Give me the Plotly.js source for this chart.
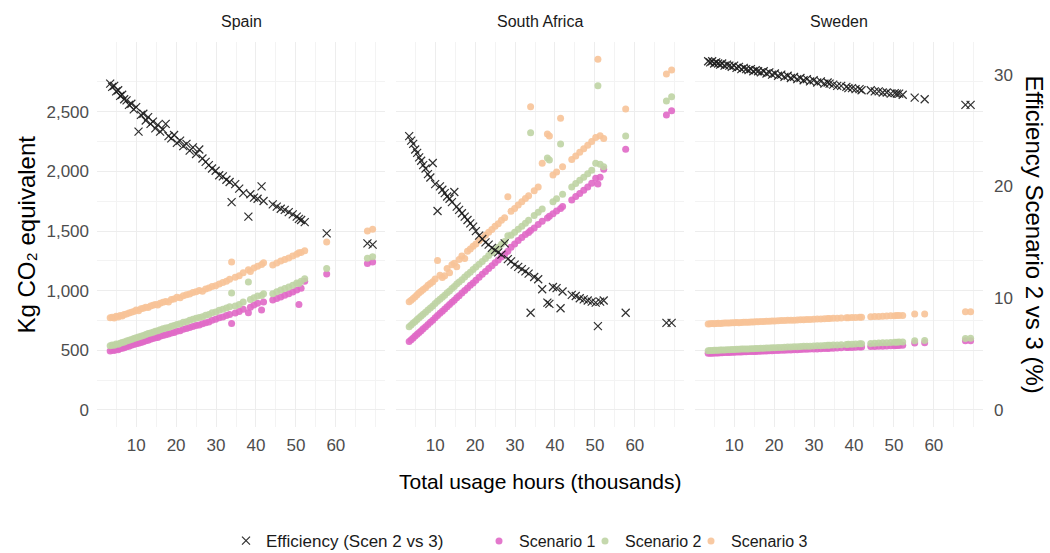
<!DOCTYPE html>
<html>
<head>
<meta charset="utf-8">
<script src="https://cdn.plot.ly/plotly-3.0.1.min.js"></script>
<style>html,body{margin:0;padding:0;background:#fff;}#chart{width:1050px;height:553px;}</style>
</head>
<body>
<div id="chart"></div>
<script>
// ---- Data ----
const countryNames = ["Spain", "South Africa", "Sweden"];
const seriesNames = ["Efficiency (Scen 2 vs 3)", "Scenario 1", "Scenario 2", "Scenario 3"];
const xTickVals = [10, 20, 30, 40, 50, 60];
const yTickVals = [0, 500, 1000, 1500, 2000, 2500];
const effTickVals = [0, 10, 20, 30];

// Total usage hours (thousands)
const hoursBand = [3.5, 4.0, 4.5, 5.0, 5.5,
  6.0, 6.5, 7.0, 7.6, 8.2,
  8.8, 9.4, 10.0, 10.6, 11.2,
  11.8, 12.4, 13.0, 13.6, 14.2,
  14.8, 15.4, 16.0, 16.7, 17.4,
  18.1, 18.8, 19.5, 20.2, 21.0,
  21.8, 22.6, 23.4, 24.2, 25.0,
  25.8, 26.6, 27.4, 28.2, 29.0,
  29.9, 30.8, 31.7, 32.6, 33.4,
  33.9, 34.8, 35.8, 36.8, 38.1,
  38.6, 39.5, 40.4, 41.4, 41.9,
  44.2, 45.2, 46.2, 47.2, 48.2,
  49.2, 50.2, 50.75, 51.3, 52.2];
const hoursTailSpainSA = [57.7, 67.9, 69.2];
const hoursTailSweden = [55.2, 57.7, 67.9, 69.2];
const hoursSpain = hoursBand.concat(hoursTailSpainSA);
const hoursSouthAfrica = hoursBand.concat(hoursTailSpainSA);
const hoursSweden = hoursBand.concat(hoursTailSweden);

// Spain (kg CO2 eq / efficiency %)
const spainS1 = [495, 502, 498, 508, 505,
  515, 518, 522, 530, 535,
  542, 548, 555, 560, 566,
  572, 580, 585, 592, 598,
  605, 608, 618, 625, 630,
  636, 645, 650, 660, 665,
  676, 682, 692, 700, 708,
  712, 722, 732, 738, 752,
  760, 772, 780, 792, 800,
  725, 812, 825, 845, 815,
  862, 880, 895, 838, 905,
  922, 935, 948, 962, 975,
  988, 1005, 885, 1020, 1080,
  1140, 1228, 1240];
const spainS2 = [538, 545, 542, 552, 550,
  560, 565, 570, 578, 585,
  590, 598, 605, 612, 618,
  625, 632, 640, 645, 652,
  660, 665, 672, 680, 688,
  692, 702, 708, 716, 722,
  735, 740, 752, 760, 768,
  775, 782, 795, 800, 815,
  822, 835, 845, 855, 865,
  980, 872, 885, 905, 1073,
  925, 940, 955, 960, 975,
  975, 990, 1005, 1018, 1030,
  1045, 1065, 1060, 1080, 1100,
  1185, 1272, 1285];
const spainS3 = [772, 778, 770, 785, 780,
  792, 788, 800, 805, 812,
  820, 825, 838, 832, 848,
  852, 860, 858, 872, 878,
  885, 880, 895, 902, 910,
  905, 925, 930, 945, 940,
  958, 965, 972, 985, 990,
  1002, 995, 1015, 1022, 1035,
  1042, 1055, 1068, 1080, 1095,
  1240, 1112, 1125, 1150, 1175,
  1160, 1190, 1205, 1220, 1235,
  1215, 1232, 1248, 1262, 1275,
  1290, 1305, 1318, 1320, 1335,
  1408, 1500, 1515];
const spainEff = [29.2, 28.9, 29.0, 28.5, 28.6,
  28.1, 28.2, 27.8, 27.7, 27.3,
  27.4, 26.9, 27.1, 24.9, 26.4,
  26.5, 25.9, 26.2, 25.6, 25.8,
  25.2, 25.5, 24.9, 25.1, 25.6,
  24.5, 24.3, 24.6, 23.9, 24.1,
  23.6, 23.8, 23.2, 23.5, 22.9,
  23.3, 22.5, 22.2, 21.9, 21.6,
  21.4, 21.0, 20.9, 20.6, 20.4,
  18.6, 20.2, 19.8, 19.4, 17.3,
  19.3, 19.0, 18.9, 20.0, 18.7,
  18.4, 18.2, 18.0, 17.9, 17.7,
  17.5, 17.3, 17.1, 17.0, 16.8,
  15.8, 14.9, 14.8];

// South Africa
const southAfricaS1 = [573, 588, 604, 620, 634,
  650, 665, 680, 698, 716,
  735, 752, 772, 792, 810,
  828, 846, 865, 884, 902,
  920, 940, 958, 980, 1002,
  1022, 1045, 1065, 1088, 1112,
  1138, 1160, 1185, 1210, 1235,
  1258, 1282, 1305, 1330, 1365,
  1392, 1420, 1445, 1470, 1488,
  1505, 1525, 1555, 1582, 1610,
  1625, 1645, 1668, 1690, 1705,
  1760, 1790, 1815, 1842, 1870,
  1900, 1942, 1894, 1950, 2018,
  2185, 2473, 2509];
const southAfricaS2 = [698, 712, 728, 742, 758,
  772, 788, 802, 820, 838,
  855, 872, 892, 912, 928,
  945, 962, 982, 998, 1018,
  1035, 1055, 1072, 1092, 1115,
  1135, 1155, 1178, 1198, 1222,
  1245, 1270, 1295, 1318, 1342,
  1365, 1390, 1412, 1460, 1465,
  1490, 1515, 1540, 1565, 1590,
  2325, 1630, 1658, 1685, 2112,
  2096, 1745, 1770, 2230, 1808,
  1870, 1898, 1925, 1952, 1980,
  2010, 2068, 2719, 2060, 2040,
  2297, 2590, 2626];
const southAfricaS3 = [908, 920, 935, 950, 965,
  982, 995, 1010, 1025, 1045,
  1060, 1075, 1098, 1252, 1130,
  1110, 1125, 1185, 1150, 1218,
  1230, 1200, 1262, 1290, 1270,
  1330, 1350, 1372, 1392, 1418,
  1440, 1465, 1490, 1512, 1540,
  1562, 1590, 1612, 1788, 1665,
  1690, 1718, 1745, 1772, 1795,
  2542, 1838, 1870, 2068, 2313,
  2297, 1970, 1995, 2445, 2040,
  2100, 2130, 2160, 2190, 2220,
  2250, 2285, 2940, 2300, 2275,
  2523, 2816, 2850];
const southAfricaEff = [24.5, 24.1, 23.8, 23.3, 23.0,
  22.6, 22.3, 21.9, 21.6, 21.1,
  20.8, 22.1, 20.2, 17.8, 20.0,
  19.7, 19.4, 19.1, 18.9, 18.6,
  19.5, 18.2, 17.9, 17.6, 17.3,
  17.0, 16.7, 16.4, 16.0, 15.6,
  15.3, 15.0, 14.8, 14.5, 14.3,
  14.1, 13.9, 14.9, 13.5, 13.3,
  13.0, 12.8, 12.6, 12.4, 12.2,
  8.7, 11.9, 11.7, 10.8, 9.6,
  9.5, 11.0, 10.9, 9.1, 10.6,
  10.3, 10.2, 10.0, 9.9, 9.8,
  9.7, 9.6, 7.5, 9.7, 9.8,
  8.7, 7.8, 7.8];

// Sweden
const swedenS1 = [475, 476, 476, 477, 478,
  478, 479, 480, 481, 481,
  482, 483, 484, 485, 486,
  486, 487, 488, 489, 490,
  490, 491, 492, 493, 494,
  495, 496, 497, 498, 499,
  500, 501, 502, 503, 504,
  505, 507, 508, 509, 510,
  511, 512, 514, 515, 516,
  517, 518, 519, 521, 523,
  523, 524, 526, 527, 528,
  531, 532, 534, 535, 536,
  538, 539, 540, 541, 542,
  562, 564, 580, 581];
const swedenS2 = [497, 498, 499, 500, 500,
  501, 502, 502, 503, 504,
  505, 506, 507, 508, 509,
  510, 510, 511, 512, 513,
  514, 515, 516, 517, 518,
  519, 520, 521, 522, 523,
  524, 526, 527, 528, 529,
  530, 532, 533, 534, 535,
  537, 538, 539, 541, 542,
  543, 544, 545, 547, 549,
  550, 551, 552, 554, 555,
  558, 560, 561, 563, 564,
  566, 567, 568, 569, 570,
  581, 582, 600, 601];
const swedenS3 = [721, 722, 724, 723, 725,
  726, 725, 727, 728, 729,
  728, 731, 731, 733, 732,
  734, 735, 736, 735, 737,
  738, 739, 740, 741, 742,
  743, 744, 745, 746, 747,
  749, 750, 751, 752, 753,
  755, 756, 757, 758, 759,
  761, 762, 763, 765, 766,
  767, 768, 769, 771, 773,
  774, 775, 776, 778, 778,
  781, 783, 784, 786, 787,
  789, 790, 791, 791, 792,
  805, 805, 824, 824];
const swedenEff = [31.2, 31.1, 31.2, 31.0, 31.1,
  31.0, 30.9, 31.0, 30.8, 30.9,
  30.8, 30.7, 30.8, 30.6, 30.7,
  30.5, 30.6, 30.5, 30.4, 30.5,
  30.3, 30.4, 30.3, 30.2, 30.3,
  30.1, 30.2, 30.0, 30.1, 29.9,
  30.0, 29.8, 29.9, 29.7, 29.8,
  29.6, 29.7, 29.5, 29.6, 29.4,
  29.5, 29.3, 29.4, 29.2, 29.3,
  29.2, 29.1, 29.0, 29.0, 28.9,
  28.8, 28.8, 28.7, 28.7, 28.6,
  28.6, 28.5, 28.5, 28.4, 28.4,
  28.3, 28.35, 28.3, 28.3, 28.2,
  27.95, 27.8, 27.3, 27.3];

// ---- Build traces ----
const panels = [
  {x: hoursSpain, s1: spainS1, s2: spainS2, s3: spainS3, eff: spainEff},
  {x: hoursSouthAfrica, s1: southAfricaS1, s2: southAfricaS2, s3: southAfricaS3, eff: southAfricaEff},
  {x: hoursSweden, s1: swedenS1, s2: swedenS2, s3: swedenS3, eff: swedenEff}
];
const colors = {s1: '#E069C6', s2: '#BFD4A4', s3: '#F7C398', eff: '#1a1a1a'};
const FONT = 'Liberation Sans, Arial, Helvetica, sans-serif';
const legendIds = {s1: 'legend2', s2: 'legend3', s3: 'legend4'};

const traces = [];
panels.forEach(function (p, i) {
  const xa = i === 0 ? 'x' : 'x' + (i + 1);
  const ya = i === 0 ? 'y' : 'y' + (i + 1);
  const yEff = 'y' + (i + 4);
  ['s1', 's2', 's3'].forEach(function (k, j) {
    traces.push({
      type: 'scatter', mode: 'markers', x: p.x, y: p[k],
      xaxis: xa, yaxis: ya, name: seriesNames[j + 1],
      legend: legendIds[k], showlegend: i === 0,
      marker: {color: colors[k], size: 7, opacity: 0.9, line: {width: 0}},
      hoverinfo: 'skip'
    });
  });
  traces.push({
    type: 'scatter', mode: 'markers', x: p.x, y: p.eff,
    xaxis: xa, yaxis: yEff, name: seriesNames[0],
    legend: 'legend', showlegend: i === 0,
    marker: {symbol: 'x-thin', size: 8, color: colors.eff, opacity: 0.9,
             line: {width: 1.2, color: colors.eff}},
    hoverinfo: 'skip'
  });
});

// ---- Layout ----
const kgRange = [-143, 3085];
const effRange = [-1.52, 32.92];
const gridCol = '#EDEDED';
const minorGridCol = '#F3F3F3';
const doms = [[0, 0.32506], [0.33747, 0.66253], [0.67494, 1]];

function xAxis(i) {
  return {
    domain: doms[i], anchor: i === 0 ? 'y' : 'y' + (i + 1), range: [0.2, 72.3],
    tickmode: 'array', tickvals: xTickVals, ticks: '', showline: false, zeroline: false,
    showgrid: true, gridcolor: gridCol, gridwidth: 1,
    minor: {tickmode: 'array', tickvals: [5, 15, 25, 35, 45, 55, 65, 70], showgrid: true,
            gridcolor: minorGridCol, gridwidth: 1, ticks: ''},
    tickfont: {family: FONT, size: 17, color: '#4d4d4d'}, ticklabelstandoff: 6
  };
}
function yAxis(i) {
  return {
    domain: [0, 1], anchor: i === 0 ? 'x' : 'x' + (i + 1), range: kgRange,
    tickmode: 'array', tickvals: yTickVals, tickformat: ',', showticklabels: i === 0,
    ticks: '', showline: false, zeroline: false,
    showgrid: true, gridcolor: gridCol, gridwidth: 1,
    minor: {tickmode: 'array', tickvals: [250, 750, 1250, 1750, 2250, 2750], showgrid: true,
            gridcolor: minorGridCol, gridwidth: 1, ticks: ''},
    tickfont: {family: FONT, size: 17, color: '#4d4d4d'}, ticklabelstandoff: 7
  };
}
function effAxis(i) {
  const base = {
    overlaying: i === 0 ? 'y' : 'y' + (i + 1), anchor: i === 0 ? 'x' : 'x' + (i + 1),
    range: effRange, showgrid: false, zeroline: false, showline: false, ticks: ''
  };
  if (i === 2) {
    base.side = 'right';
    base.tickmode = 'array';
    base.tickvals = effTickVals;
    base.tickfont = {family: FONT, size: 17, color: '#4d4d4d'};
    base.ticklabelstandoff = 10;
  } else {
    base.visible = false;
  }
  return base;
}

const plotL = 97, plotW = 886, plotT = 42, plotH = 385;
function px2paperX(px) { return (px - plotL) / plotW; }
function px2paperY(py) { return (plotT + plotH - py) / plotH; }

const annotations = countryNames.map(function (c, i) {
  return {text: c, xref: 'paper', yref: 'paper', x: (doms[i][0] + doms[i][1]) / 2,
          y: px2paperY(22), xanchor: 'center', yanchor: 'middle', showarrow: false,
          font: {family: FONT, size: 16, color: '#1a1a1a'}};
});
annotations.push({text: 'Total usage hours (thousands)', xref: 'paper', yref: 'paper',
  x: px2paperX(540), y: px2paperY(481), xanchor: 'center', yanchor: 'middle', showarrow: false,
  font: {family: FONT, size: 21, color: '#000'}});
annotations.push({text: 'Kg CO₂ equivalent', xref: 'paper', yref: 'paper',
  x: px2paperX(26), y: 0.5, xanchor: 'center', yanchor: 'middle', textangle: -90, showarrow: false,
  font: {family: FONT, size: 24, color: '#000'}});
annotations.push({text: 'Efficiency Scenario 2 vs 3 (%)', xref: 'paper', yref: 'paper',
  x: px2paperX(1034), y: 0.5, xanchor: 'center', yanchor: 'middle', textangle: 90, showarrow: false,
  font: {family: FONT, size: 24, color: '#000'}});

function legendAt(symbolCenterPx, fontSize) {
  return {orientation: 'h', x: px2paperX(symbolCenterPx - 20), xanchor: 'left',
          y: px2paperY(541), yanchor: 'middle', bgcolor: 'rgba(0,0,0,0)',
          font: {family: FONT, size: fontSize, color: '#1a1a1a'}};
}

const layout = {
  width: 1050, height: 553,
  margin: {l: plotL, r: 1050 - plotL - plotW, t: plotT, b: 553 - plotT - plotH, pad: 0, autoexpand: false},
  paper_bgcolor: '#fff', plot_bgcolor: '#fff',
  font: {family: FONT, color: '#4d4d4d'},
  xaxis: xAxis(0), xaxis2: xAxis(1), xaxis3: xAxis(2),
  yaxis: yAxis(0), yaxis2: yAxis(1), yaxis3: yAxis(2),
  yaxis4: effAxis(0), yaxis5: effAxis(1), yaxis6: effAxis(2),
  showlegend: true,
  legend: legendAt(246, 17),
  legend2: legendAt(499, 16),
  legend3: legendAt(605, 16),
  legend4: legendAt(711, 16),
  annotations: annotations,
  hovermode: false
};

Plotly.newPlot('chart', traces, layout, {displayModeBar: false, staticPlot: true});
</script>
</body>
</html>
